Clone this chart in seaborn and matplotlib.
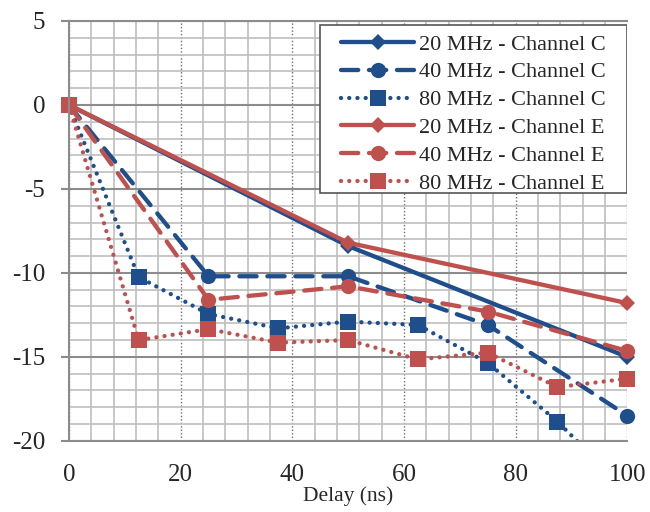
import numpy as np
import pandas as pd
import matplotlib
matplotlib.use("Agg")
import matplotlib.pyplot as plt
from matplotlib.ticker import MultipleLocator
from matplotlib.patches import Rectangle
import seaborn as sns

# Data (delay in ns, power in dB)
x20 = [0, 50, 100]
x40 = [0, 25, 50, 75, 100]
x80 = [0, 12.5, 25, 37.5, 50, 62.5, 75, 87.5, 100]

c20 = [0, -8.4, -15.0]
c40 = [0, -10.2, -10.2, -13.1, -18.5]
c80 = [0, -10.25, -12.45, -13.3, -12.9, -13.1, -15.35, -18.85, -23.0]

e20 = [0, -8.2, -11.8]
e40 = [0, -11.6, -10.8, -12.3, -14.65]
e80 = [0, -14.0, -13.35, -14.15, -14.0, -15.15, -14.75, -16.8, -16.3]

labels = ["20 MHz - Channel C", "40 MHz - Channel C", "80 MHz - Channel C",
          "20 MHz - Channel E", "40 MHz - Channel E", "80 MHz - Channel E"]

blue = "#1F4E8C"
red = "#C0504D"

sns.set_style("white")
plt.rcParams['font.family'] = ['Liberation Serif', 'DejaVu Serif']
plt.rcParams['axes.unicode_minus'] = False

fig = plt.figure(figsize=(6.5, 5.12), dpi=100)
ax = fig.add_axes([0.106, 0.139, 0.859, 0.820])

dash = (0, (4, 2.5))
dot = (0, (0.01, 1.9))

series = [
    (x20, c20, blue, "-", "D", 8),
    (x40, c40, blue, dash, "o", 11),
    (x80, c80, blue, dot, "s", 11),
    (x20, e20, red, "-", "D", 8),
    (x40, e40, red, dash, "o", 11),
    (x80, e80, red, dot, "s", 11),
]

for (xs, ys, col, ls, mk, ms), lab in zip(series, labels):
    df = pd.DataFrame({"delay": xs, "power": ys})
    sns.lineplot(data=df, x="delay", y="power", ax=ax, color=col, linestyle=ls,
                 linewidth=3.1, marker=mk, markersize=ms, markeredgecolor=col,
                 markeredgewidth=0, dash_capstyle="round", solid_capstyle="round",
                 label=lab, legend=False)
    # let markers on the x edges show, but clip anything below the y range
    ax.lines[-1].set_clip_path(Rectangle((-0.05, 0), 1.1, 1.06, transform=ax.transAxes))

ax.set_xlim(0, 100)
ax.set_ylim(-20, 5)

ax.xaxis.set_major_locator(MultipleLocator(20))
ax.xaxis.set_minor_locator(MultipleLocator(4))
ax.yaxis.set_major_locator(MultipleLocator(5))
ax.yaxis.set_minor_locator(MultipleLocator(1))

ax.grid(which="minor", axis="both", color="#BFBFBF", linewidth=1.2, linestyle="-")
ax.grid(which="major", axis="y", color="#8C8C8C", linewidth=1.5, linestyle="-")
ax.grid(which="major", axis="x", color="#6E6E6E", linewidth=1.0, linestyle=(0, (1, 1.5)))
ax.set_axisbelow(True)

ax.tick_params(axis="y", which="major", length=6, width=1.5, color="#8C8C8C",
               labelsize=18, pad=11, left=True)
ax.tick_params(axis="x", which="major", length=0, labelsize=18, pad=17)
ax.tick_params(which="minor", length=0)

for side in ["left", "bottom", "top"]:
    ax.spines[side].set_color("#8C8C8C")
    ax.spines[side].set_linewidth(1.5)
ax.spines["right"].set_visible(False)

ax.set_xlabel("Delay (ns)", fontsize=15.5, labelpad=0)
ax.set_ylabel("")

# legend box: wider side margins than matplotlib's symmetric padding allows
ax.add_patch(Rectangle((0.450, 0.590), 0.550, 0.400, transform=ax.transAxes,
                       facecolor="white", edgecolor="#555555", linewidth=1.2,
                       zorder=4.9))
leg = ax.legend(loc="upper right", bbox_to_anchor=(0.961, 0.969), borderaxespad=0,
                fontsize=16, handlelength=3.3, numpoints=1, labelspacing=0.33,
                handletextpad=0.2, borderpad=0, frameon=False)
leg.set_zorder(5)

fig.savefig("out.png", dpi=100)
